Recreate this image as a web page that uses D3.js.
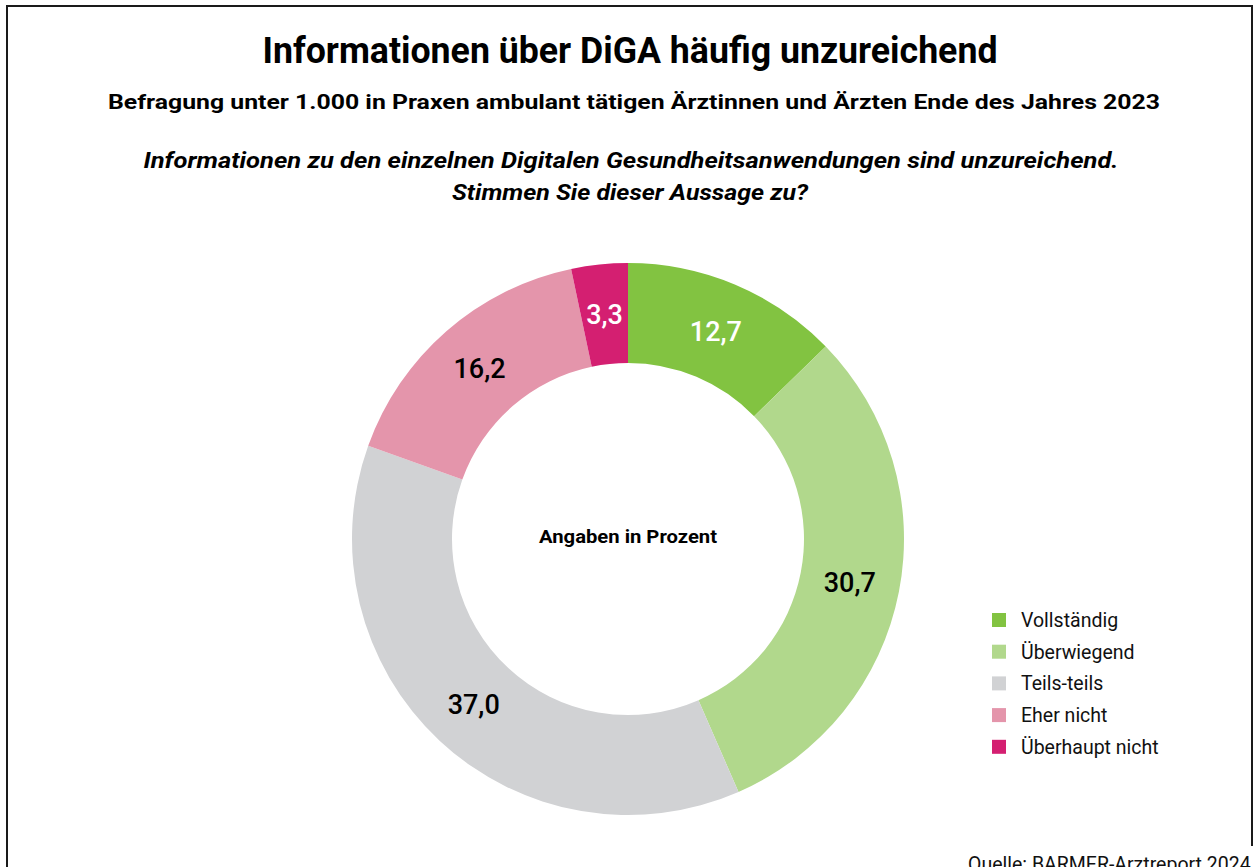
<!DOCTYPE html>
<html>
<head>
<meta charset="utf-8">
<script src="https://cdn.jsdelivr.net/npm/d3@7"></script>
<style>
  body { margin: 0; background: #fff; }
  svg { display: block; font-family: Roboto, "Noto Sans", sans-serif; }
</style>
</head>
<body>
<svg id="main_svg" width="1255" height="867"></svg>
<script>
// Antworten und Anteile in Prozent
const categories = ["Vollständig", "Überwiegend", "Teils-teils", "Eher nicht", "Überhaupt nicht"];
const values = [12.7, 30.7, 37.0, 16.2, 3.3];
const colors = ["#82c341", "#b1d88c", "#d1d2d4", "#e495ab", "#d41f71"];
const labelColors = ["#fff", "#000", "#000", "#000", "#fff"];

const title = "Informationen über DiGA häufig unzureichend";
const subtitle = "Befragung unter 1.000 in Praxen ambulant tätigen Ärztinnen und Ärzten Ende des Jahres 2023";
const question = ["Informationen zu den einzelnen Digitalen Gesundheitsanwendungen sind unzureichend.",
                  "Stimmen Sie dieser Aussage zu?"];
const source = "Quelle: BARMER-Arztreport 2024";

let svg = d3.select("#main_svg");

// Rahmen (unten offen)
svg.append("path")
   .attr("d", "M7,867 V6 H1252 V846")
   .attr("fill", "none")
   .attr("stroke", "#1a1a1a")
   .attr("stroke-width", 2);

// Überschriften
svg.append("text")
   .attr("x", 630).attr("y", 63)
   .attr("text-anchor", "middle")
   .attr("font-size", 37).attr("font-weight", 700)
   .attr("textLength", 735).attr("lengthAdjust", "spacingAndGlyphs")
   .text(title);

svg.append("text")
   .attr("x", 634).attr("y", 109)
   .attr("text-anchor", "middle")
   .attr("font-size", 21).attr("font-weight", 700)
   .attr("textLength", 1052).attr("lengthAdjust", "spacingAndGlyphs")
   .text(subtitle);

let qWidths = [975, 356];
question.forEach(function (q, i) {
    svg.append("text")
       .attr("x", i === 0 ? 631 : 630).attr("y", 168 + i * 32)
       .attr("text-anchor", "middle")
       .attr("font-size", 22).attr("font-weight", 700).attr("font-style", "italic")
       .attr("textLength", qWidths[i]).attr("lengthAdjust", "spacingAndGlyphs")
       .text(q);
});

// Ring
const cx = 628, cy = 539;
let pie = d3.pie().sort(null).value(d => d);
let arc = d3.arc().innerRadius(176).outerRadius(276);
let arcs = pie(values);

let g = svg.append("g").attr("transform", "translate(" + cx + "," + cy + ")");

g.selectAll("path")
 .data(arcs)
 .enter()
 .append("path")
 .attr("d", arc)
 .attr("fill", (d, i) => colors[i]);

g.selectAll("text.val")
 .data(arcs)
 .enter()
 .append("text")
 .attr("class", "val")
 .attr("x", d => arc.centroid(d)[0])
 .attr("y", d => arc.centroid(d)[1])
 .attr("dy", "0.36em")
 .attr("text-anchor", "middle")
 .attr("font-size", 27).attr("font-weight", 500)
 .attr("fill", (d, i) => labelColors[i])
 .text(d => d3.format(".1f")(d.data).replace(".", ","));

g.append("text")
 .attr("x", 0).attr("y", 4)
 .attr("text-anchor", "middle")
 .attr("font-size", 18).attr("font-weight", 700)
 .attr("textLength", 178).attr("lengthAdjust", "spacingAndGlyphs")
 .text("Angaben in Prozent");

// Legende
let legend = svg.append("g").attr("transform", "translate(992,613)");
categories.forEach(function (c, i) {
    let row = legend.append("g").attr("transform", "translate(0," + (i * 31.7) + ")");
    row.append("rect")
       .attr("width", 14).attr("height", 14)
       .attr("fill", colors[i]);
    row.append("text")
       .attr("x", 29).attr("y", 7)
       .attr("dy", "0.36em")
       .attr("font-size", 19.5)
       .attr("fill", "#111")
       .text(c);
});

// Quelle
svg.append("text")
   .attr("x", 968).attr("y", 871)
   .attr("font-size", 19.5)
   .attr("fill", "#111")
   .text(source);
</script>
</body>
</html>
